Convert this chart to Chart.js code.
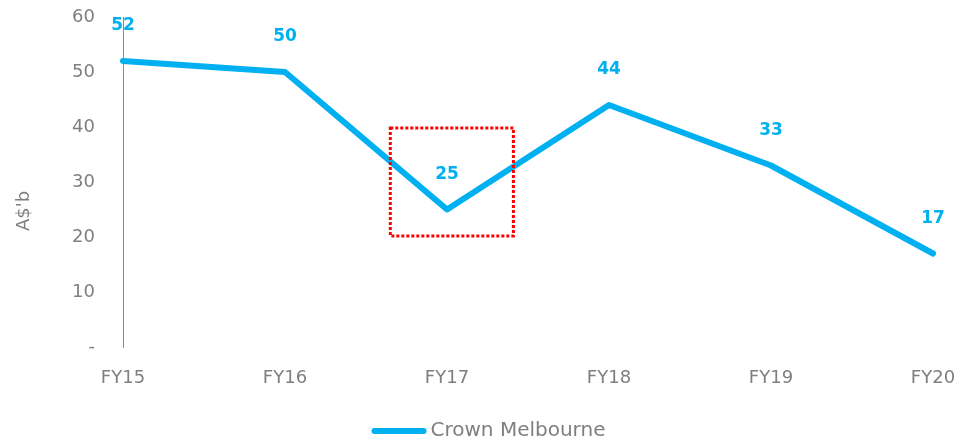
<!DOCTYPE html>
<html>
<head>
<meta charset="utf-8">
<script src="https://cdn.jsdelivr.net/npm/chart.js@4"></script>
<style>
  html, body { margin: 0; padding: 0; background: #fff; }
  #wrap { width: 957px; height: 441px; }
</style>
</head>
<body>
<div id="wrap"><canvas id="chart"></canvas></div>
<script>
'use strict';

// chart data
const years = ['FY15', 'FY16', 'FY17', 'FY18', 'FY19', 'FY20'];
const crownMelbourne = [52, 50, 25, 44, 33, 17];
const yTicks = [0, 10, 20, 30, 40, 50, 60];
const seriesName = 'Crown Melbourne';
const yTitle = "A$'b";

// highlighted area round FY17 (in axis units)
const boxX = [1.65, 2.41];
const boxY = [20.2, 39.8];

const blue = '#00B0F0';
const grey = '#7f7f7f';
const font = "'DejaVu Sans', sans-serif";

// value labels above points
const pointLabels = {
  id: 'pointLabels',
  afterDatasetsDraw(chart) {
    const ctx = chart.ctx;
    const meta = chart.getDatasetMeta(0);
    ctx.save();
    ctx.fillStyle = blue;
    ctx.textAlign = 'center';
    ctx.textBaseline = 'middle';
    ctx.font = 'bold 17px ' + font;
    meta.data.forEach((pt, i) => {
      ctx.fillText(String(crownMelbourne[i]), pt.x, pt.y - 35);
    });
    ctx.restore();
  }
};

// red dotted box
const highlightBox = {
  id: 'highlightBox',
  afterDatasetsDraw(chart) {
    const ctx = chart.ctx;
    const x = chart.scales.x, y = chart.scales.y;
    const x0 = x.getPixelForValue(boxX[0]);
    const x1 = x.getPixelForValue(boxX[1]);
    const y0 = y.getPixelForValue(boxY[1]);
    const y1 = y.getPixelForValue(boxY[0]);
    ctx.save();
    ctx.strokeStyle = '#FF0000';
    ctx.lineWidth = 3;
    ctx.setLineDash([3, 2]);
    ctx.strokeRect(x0, y0, x1 - x0, y1 - y0);
    ctx.restore();
  }
};

// axis title and legend, drawn by hand
const extras = {
  id: 'extras',
  afterDraw(chart) {
    const ctx = chart.ctx;
    const area = chart.chartArea;
    ctx.save();
    ctx.fillStyle = grey;
    ctx.font = '18px ' + font;
    ctx.textAlign = 'center';
    ctx.textBaseline = 'middle';
    ctx.translate(24, area.bottom - 136);
    ctx.rotate(-Math.PI / 2);
    ctx.fillText(yTitle, 0, 0);
    ctx.restore();

    ctx.save();
    ctx.font = '20px ' + font;
    const tw = ctx.measureText(seriesName).width;
    const lineW = 55, gap = 4;
    const total = lineW + gap + tw;
    const x0 = chart.width / 2 + 10 - total / 2;
    const y = chart.height - 10;
    ctx.strokeStyle = blue;
    ctx.lineWidth = 6;
    ctx.lineCap = 'round';
    ctx.beginPath();
    ctx.moveTo(x0 + 3, y);
    ctx.lineTo(x0 + lineW - 3, y);
    ctx.stroke();
    ctx.fillStyle = grey;
    ctx.textAlign = 'left';
    ctx.textBaseline = 'middle';
    ctx.fillText(seriesName, x0 + lineW + gap, y);
    ctx.restore();
  }
};

const data = {
  labels: years,
  datasets: [
    {
      label: seriesName,
      data: crownMelbourne,
      borderColor: blue,
      backgroundColor: blue,
      borderWidth: 6,
      pointRadius: 0,
      tension: 0,
      borderJoinStyle: 'round',
      borderCapStyle: 'round'
    }
  ]
};

const config = {
  type: 'line',
  data: data,
  plugins: [highlightBox, pointLabels, extras],
  options: {
    responsive: true,
    maintainAspectRatio: false,
    animation: false,
    layout: { padding: { top: 17, right: 24, left: 0, bottom: 44 } },
    plugins: {
      tooltip: { enabled: false },
      legend: { display: false }
    },
    scales: {
      x: {
        offset: false,
        grid: { display: false },
        border: { display: false },
        ticks: { color: grey, padding: 13, maxRotation: 0, font: { family: font, size: 18 } },
        afterFit(scale) {
          scale.height = 50;
          scale.paddingLeft = 0;
          scale.paddingRight = 0;
        }
      },
      y: {
        min: 0,
        max: 60,
        afterBuildTicks(scale) { scale.ticks = yTicks.map(v => ({ value: v })); },
        grid: { display: false },
        border: { display: true, color: '#8c8c8c', width: 1 },
        ticks: {
          color: grey,
          padding: 20,
          font: { family: font, size: 18 },
          callback: v => (v === 0 ? '-' : v)
        },
        afterFit(scale) {
          scale.width = 123;
          scale.paddingTop = 0;
          scale.paddingBottom = 0;
        }
      }
    }
  }
};

const chart = new Chart(document.getElementById('chart'), config);
</script>
</body>
</html>
